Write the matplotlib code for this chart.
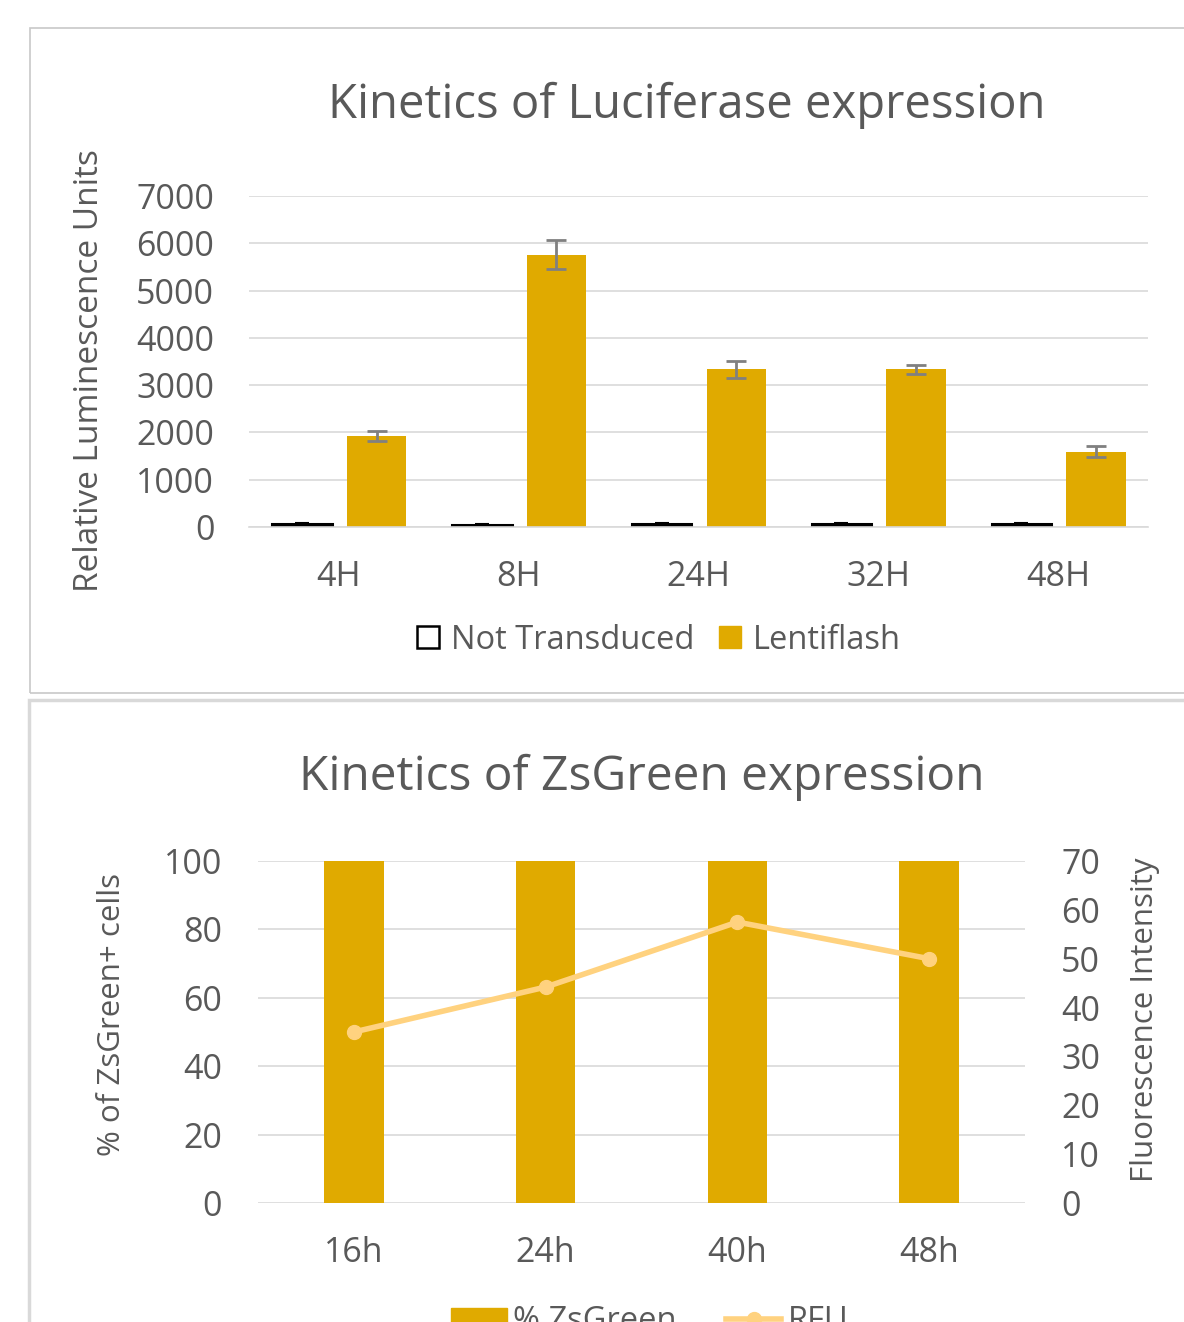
import numpy as np
import matplotlib
matplotlib.use("Agg")
import matplotlib.pyplot as plt
from matplotlib.patches import Rectangle
from matplotlib.lines import Line2D

plt.rcParams['font.family'] = ['Open Sans', 'DejaVu Sans']

# Data - luciferase kinetics
luc_times = ['4H', '8H', '24H', '32H', '48H']
not_transduced = [60, 50, 60, 60, 60]
not_transduced_err = [20, 10, 20, 20, 20]
lentiflash = [1920, 5760, 3340, 3340, 1590]
lentiflash_err = [110, 310, 180, 95, 115]

# Data - ZsGreen kinetics
zs_times = ['16h', '24h', '40h', '48h']
zs_pct = [100, 100, 100, 100]
rfu = [35, 44.2, 57.5, 50]

gold = '#E0AA00'
line_col = '#FFD27F'
txt = '#595959'
grid = '#D9D9D9'

W, H = 1184, 1322
fig = plt.figure(figsize=(W / 100, H / 100), dpi=100)

def fx(px):
    return px / W

def fy(py):
    return 1 - py / H

# panel borders
fig.patches.append(Rectangle((fx(30), fy(693)), fx(1200 - 30), fy(28) - fy(693),
                             transform=fig.transFigure, fill=False, ec='#C8C8C8', lw=1.2))
fig.patches.append(Rectangle((fx(29), fy(1340)), fx(1200 - 29), fy(700) - fy(1340),
                             transform=fig.transFigure, fill=False, ec='#D9D9D9', lw=2.5))

# ---- top chart ----
ax1 = fig.add_axes([fx(249), fy(527), fx(1148 - 249), fy(196) - fy(527)])
x = np.arange(len(luc_times))
w = 0.33
ax1.bar(x - 0.205, not_transduced, w, color='white', edgecolor='black', lw=2.2,
        yerr=not_transduced_err, error_kw=dict(ecolor='black', lw=1.5, capsize=5, capthick=1.5))
ax1.bar(x + 0.21, lentiflash, w, color=gold,
        yerr=lentiflash_err, error_kw=dict(ecolor='#808080', lw=2, capsize=7, capthick=2))
ax1.set_xlim(-0.5, 4.5)
ax1.set_ylim(0, 7000)
ax1.set_yticks(np.arange(0, 7001, 1000))
ax1.set_xticks(x)
ax1.set_xticklabels(luc_times)
ax1.yaxis.grid(True, color=grid, lw=1.2)
ax1.set_axisbelow(True)
for s in ['top', 'right', 'left']:
    ax1.spines[s].set_visible(False)
ax1.spines['bottom'].set_color(grid)
ax1.spines['bottom'].set_linewidth(1.2)
ax1.tick_params(length=0, labelsize=24.5, labelcolor=txt)
ax1.tick_params(axis='y', pad=25)
ax1.tick_params(axis='x', pad=24)

fig.text(fx(687), fy(105), 'Kinetics of Luciferase expression', ha='center', va='center',
         fontsize=34, color=txt)
fig.text(fx(90), fy(371), 'Relative Luminescence Units', ha='center', va='center',
         rotation=90, fontsize=24, color=txt)

h1 = [Line2D([], [], marker='s', ls='', mfc='white', mec='black', mew=1.8, ms=16),
      Line2D([], [], marker='s', ls='', mfc=gold, mec=gold, ms=16)]
fig.legend(h1, ['Not Transduced', 'Lentiflash'], loc='center', bbox_to_anchor=(fx(656), fy(640)),
           ncol=2, frameon=False, fontsize=23.5, labelcolor=txt, handletextpad=0.2,
           columnspacing=0.6, handlelength=1.0)

# ---- bottom chart ----
ax2 = fig.add_axes([fx(258), fy(1203), fx(1025 - 258), fy(861) - fy(1203)])
x2 = np.arange(len(zs_times))
ax2.bar(x2, zs_pct, 0.31, color=gold, zorder=2)
ax2.set_xlim(-0.5, 3.5)
ax2.set_ylim(0, 100)
ax2.set_yticks(np.arange(0, 101, 20))
ax2.set_xticks(x2)
ax2.set_xticklabels(zs_times)
ax2.yaxis.grid(True, color=grid, lw=1.2, zorder=0)
ax2.set_axisbelow(True)
for s in ax2.spines.values():
    s.set_visible(False)
ax2.tick_params(length=0, labelsize=24.5, labelcolor=txt)
ax2.tick_params(axis='y', pad=26)
ax2.tick_params(axis='x', pad=24)

ax3 = ax2.twinx()
ax3.plot(x2, rfu, color=line_col, lw=4, marker='o', ms=10, zorder=3)
ax3.set_ylim(0, 70)
ax3.set_yticks(np.arange(0, 71, 10))
for s in ax3.spines.values():
    s.set_visible(False)
ax3.tick_params(length=0, labelsize=24.5, labelcolor=txt, pad=26)

fig.text(fx(642), fy(777), 'Kinetics of ZsGreen expression', ha='center', va='center',
         fontsize=34.5, color=txt)
fig.text(fx(112), fy(1014), '% of ZsGreen+ cells', ha='center', va='center',
         rotation=90, fontsize=22.5, color=txt)
fig.text(fx(1145), fy(1020), 'Fluorescence Intensity', ha='center', va='center',
         rotation=90, fontsize=22.5, color=txt)

h2 = [Rectangle((0, 0), 1, 1, color=gold),
      Line2D([], [], color=line_col, lw=4, marker='o', ms=10)]
fig.legend(h2, ['% ZsGreen', 'RFU'], loc='center', bbox_to_anchor=(fx(650), fy(1322)),
           ncol=2, frameon=False, fontsize=23.5, labelcolor=txt, handletextpad=0.2,
           columnspacing=1.5, handlelength=1.7)

fig.savefig('out.png', dpi=100)
